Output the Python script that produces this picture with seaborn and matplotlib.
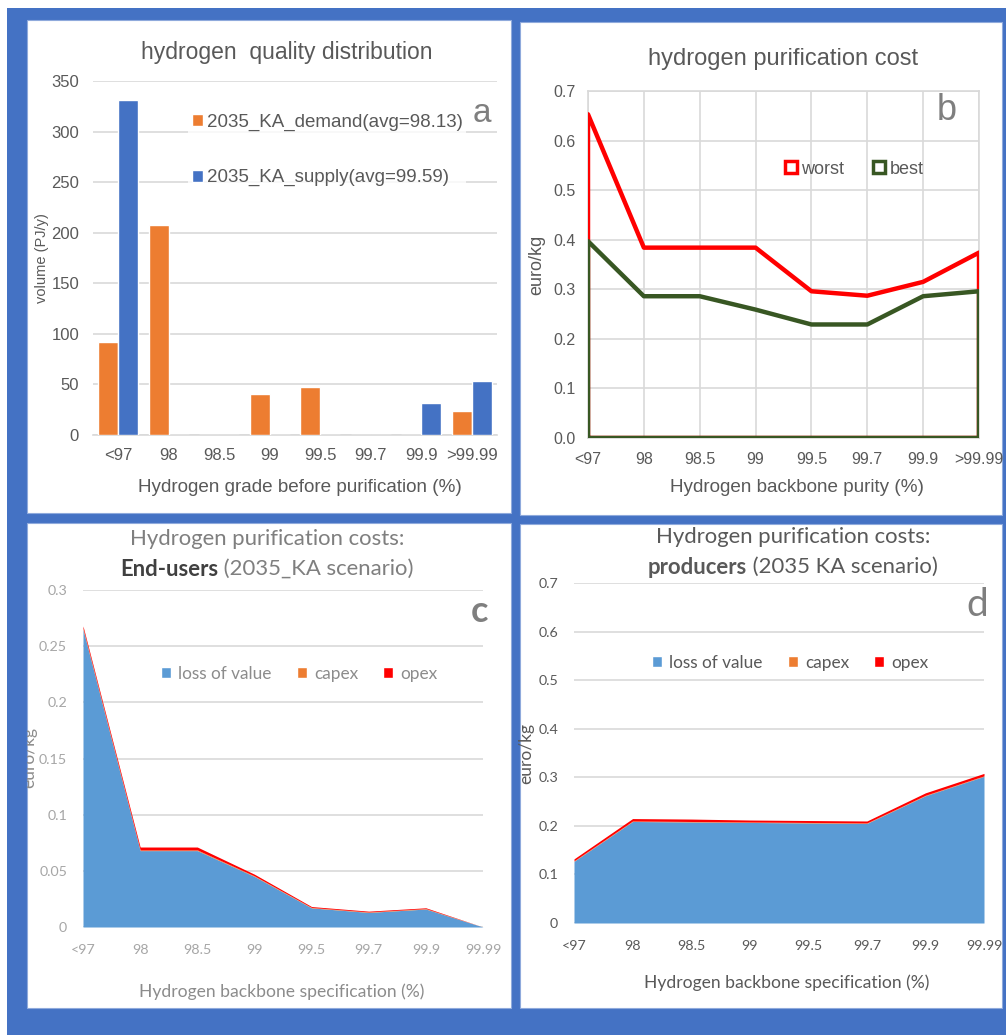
#!/usr/bin/env python3
# Four-panel hydrogen purification figure (a-d)

import numpy as np
import pandas as pd
import matplotlib
matplotlib.use("Agg")
import matplotlib.pyplot as plt
from matplotlib.patches import Rectangle, Patch
from matplotlib.transforms import Bbox, IdentityTransform
import seaborn as sns

# ============================================================================
# DATA
# ============================================================================
grades_a = ["<97", "98", "98.5", "99", "99.5", "99.7", "99.9", ">99.99"]
demand_a = [92, 208, 0, 41, 47, 0, 0, 24]
supply_a = [331, 0, 0, 0, 0, 0, 32, 53]
legend_a = ["2035_KA_demand(avg=98.13)", "2035_KA_supply(avg=99.59)"]

purity_b = ["<97", "98", "98.5", "99", "99.5", "99.7", "99.9", ">99.99"]
worst_b = [0.653, 0.384, 0.384, 0.384, 0.296, 0.287, 0.315, 0.374]
best_b = [0.397, 0.286, 0.286, 0.259, 0.229, 0.229, 0.286, 0.296]

spec_cd = ["<97", "98", "98.5", "99", "99.5", "99.7", "99.9", "99.99"]
loss_c = [0.265, 0.068, 0.068, 0.045, 0.017, 0.013, 0.016, 0.0]
capex_c = [0.001, 0.0006, 0.0006, 0.0005, 0.0004, 0.0004, 0.0004, 0.0]
opex_c = [0.002, 0.0026, 0.0026, 0.0015, 0.0008, 0.0007, 0.0007, 0.0]

loss_d = [0.127, 0.209, 0.208, 0.207, 0.206, 0.205, 0.262, 0.302]
capex_d = [0.001, 0.001, 0.001, 0.001, 0.001, 0.001, 0.001, 0.001]
opex_d = [0.004, 0.005, 0.005, 0.004, 0.004, 0.004, 0.005, 0.005]

# ============================================================================
# THEME SETTINGS
# ============================================================================
sns.set_theme(style="white")
plt.rcParams['font.family'] = ['Liberation Sans', 'DejaVu Sans']

W, H = 1006, 1035
BLUE_BG = '#4472C4'
GRID = '#d9d9d9'
TXT = '#595959'
ORANGE = '#ED7D31'
BLUE = '#4472C4'
AREA_BLUE = '#5B9BD5'
RED = '#FF0000'
GREEN = '#385723'
LATO = ['Lato', 'DejaVu Sans']
PIX = IdentityTransform()


def box(l, t, r, b):
    """pixel box (left, top, right, bottom) -> figure fraction rect"""
    return [l / W, 1 - b / H, (r - l) / W, (b - t) / H]


def fx(x):
    return x / W


def fy(y):
    return 1 - y / H


fig = plt.figure(figsize=(W / 100, H / 100), dpi=100, facecolor='white')
fig.patches.append(Rectangle((7 / W, 0), 1, 1 - 8 / H, transform=fig.transFigure,
                             facecolor=BLUE_BG, edgecolor='none', zorder=-10))
panels = {'a': (27, 20, 511, 513), 'b': (520, 22, 1002, 515),
          'c': (27, 523, 511, 1008), 'd': (520, 524, 1002, 1008)}
for l, t, r, b in panels.values():
    fig.patches.append(Rectangle((l / W, 1 - b / H), (r - l) / W, (b - t) / H,
                                 transform=fig.transFigure, facecolor='white',
                                 edgecolor='#8faadc', linewidth=0.8, zorder=-5))

# ============================================================================
# PANEL A - bar chart
# ============================================================================
ax_a = fig.add_axes(box(93, 81, 497, 435))
df_a = pd.DataFrame({
    'grade': grades_a * 2,
    'volume': demand_a + supply_a,
    'series': ['demand'] * len(grades_a) + ['supply'] * len(grades_a),
})
sns.barplot(data=df_a, x='grade', y='volume', hue='series', order=grades_a,
            palette={'demand': ORANGE, 'supply': BLUE}, width=0.8,
            saturation=1, legend=False, ax=ax_a, zorder=3)
ax_a.set_ylim(0, 350)
ax_a.set_xlim(-0.5, len(grades_a) - 0.5)
ax_a.set_yticks(np.arange(0, 351, 50))
ax_a.yaxis.grid(True, color=GRID, linewidth=1.2)
ax_a.set_axisbelow(True)
for s in ['top', 'right', 'left']:
    ax_a.spines[s].set_visible(False)
ax_a.spines['bottom'].set_color(GRID)
ax_a.spines['bottom'].set_linewidth(1.2)
ax_a.set_xticks(np.arange(len(grades_a) + 1) - 0.5, minor=True)
ax_a.tick_params(axis='x', which='minor', length=6, color=GRID, width=1.2)
ax_a.tick_params(axis='x', which='major', length=0, pad=9, labelsize=12, labelcolor=TXT)
ax_a.tick_params(axis='y', length=0, pad=10, labelsize=12, labelcolor=TXT)
ax_a.set_xlabel("")
ax_a.set_ylabel("")
fig.text(fx(42), fy(258), "volume (PJ/y)", rotation=90, ha='center', va='center',
         fontsize=10.5, color=TXT)
fig.text(fx(300), fy(487), "Hydrogen grade before purification (%)", ha='center',
         va='center', fontsize=13.6, color=TXT)
fig.text(fx(287), fy(52), "hydrogen  quality distribution", ha='center', va='center',
         fontsize=16.5, color=TXT)
fig.text(fx(482), fy(113), "a", ha='center', va='center', fontsize=24, color='#7f7f7f')
handles_a = [Patch(facecolor=ORANGE), Patch(facecolor=BLUE)]
leg = ax_a.legend(handles_a, legend_a, loc='center left', frameon=True,
                  fontsize=13.5, handlelength=0.6, handleheight=0.6,
                  handletextpad=0.2, labelspacing=2.05, borderpad=0.2,
                  borderaxespad=0, labelcolor=TXT)
leg.set_bbox_to_anchor((188, H - 150), transform=PIX)
leg.get_frame().set_facecolor('white')
leg.get_frame().set_edgecolor('none')

# ============================================================================
# PANEL B - line chart
# ============================================================================
ax_b = fig.add_axes(box(588, 91, 979, 438))
pos_b = np.arange(len(purity_b))
for vals, col in [(worst_b, RED), (best_b, GREEN)]:
    # closed outline: drop to zero at both ends and run back along the base
    loop_x = np.concatenate([[pos_b[0]], pos_b, [pos_b[-1], pos_b[0]]])
    loop_y = np.concatenate([[0], vals, [0, 0]])
    df_loop = pd.DataFrame({'x': loop_x, 'y': loop_y})
    sns.lineplot(data=df_loop, x='x', y='y', sort=False, estimator=None,
                 color=col, linewidth=3.2, ax=ax_b, zorder=3)
ax_b.set_xlim(0, len(purity_b) - 1)
ax_b.set_ylim(0, 0.7)
ax_b.set_xticks(pos_b)
ax_b.set_xticklabels(purity_b)
ax_b.set_yticks(np.arange(0, 0.71, 0.1))
ax_b.set_yticklabels([f"{v:.1f}" for v in np.arange(0, 0.71, 0.1)])
ax_b.grid(True, color=GRID, linewidth=1.2)
ax_b.set_axisbelow(True)
for s in ax_b.spines.values():
    s.set_color(GRID)
    s.set_linewidth(1.2)
ax_b.tick_params(axis='both', length=0, labelsize=11.5, labelcolor=TXT)
ax_b.tick_params(axis='x', pad=10)
ax_b.tick_params(axis='y', pad=9)
ax_b.set_xlabel("")
ax_b.set_ylabel("")
fig.text(fx(537), fy(265), "euro/kg", rotation=90, ha='center', va='center',
         fontsize=13, color=TXT)
fig.text(fx(797), fy(487), "Hydrogen backbone purity (%)", ha='center', va='center',
         fontsize=13.6, color=TXT)
fig.text(fx(783), fy(59), "hydrogen purification cost", ha='center', va='center',
         fontsize=17, color=TXT)
fig.text(fx(947), fy(110), "b", ha='center', va='center', fontsize=26, color='#7f7f7f')
handles_b = [Patch(facecolor='white', edgecolor=RED, linewidth=2.5),
             Patch(facecolor='white', edgecolor=GREEN, linewidth=2.5)]
leg_b = ax_b.legend(handles_b, ["worst", "best"], loc='center left', ncol=2,
                    frameon=False, fontsize=13, handlelength=0.65,
                    handleheight=0.65, handletextpad=0.25, columnspacing=1.6,
                    borderaxespad=0, borderpad=0, labelcolor=TXT)
leg_b.set_bbox_to_anchor((785, H - 169), transform=PIX)


# ============================================================================
# PANELS C & D - stacked areas
# ============================================================================
def stacked_panel(rect, loss, capex, opex, ymax, ystep, ylabels, tick_col):
    ax = fig.add_axes(rect)
    pos = np.arange(len(spec_cd))
    ax.stackplot(pos, loss, capex, opex, colors=[AREA_BLUE, ORANGE, RED],
                 linewidth=0, zorder=3)
    ax.set_xlim(0, len(spec_cd) - 1)
    ax.set_ylim(0, ymax)
    ax.set_xticks(pos)
    ax.set_xticklabels(spec_cd)
    ax.set_yticks(np.arange(0, ymax + 1e-9, ystep))
    ax.set_yticklabels(ylabels)
    ax.yaxis.grid(True, color=GRID, linewidth=1.2)
    ax.set_axisbelow(True)
    for s in ax.spines.values():
        s.set_visible(False)
    ax.tick_params(axis='both', length=0, labelsize=10.3, labelcolor=tick_col)
    ax.tick_params(axis='x', pad=12)
    ax.tick_params(axis='y', pad=11.5)
    for lab in ax.get_xticklabels() + ax.get_yticklabels():
        lab.set_family(LATO)
    return ax


ax_c = stacked_panel(box(83, 590, 483, 927), loss_c, capex_c, opex_c, 0.3, 0.05,
                     ["0", "0.05", "0.1", "0.15", "0.2", "0.25", "0.3"], '#a6a6a6')
ax_d = stacked_panel(box(574, 583, 984, 923), loss_d, capex_d, opex_d, 0.7, 0.1,
                     ["0", "0.1", "0.2", "0.3", "0.4", "0.5", "0.6", "0.7"], TXT)

leg_labels = ["loss of value", "capex", "opex"]
handles_cd = [Patch(facecolor=AREA_BLUE), Patch(facecolor=ORANGE), Patch(facecolor=RED)]
for ax, x0, y0, col in [(ax_c, 161, 674, '#8c8c8c'), (ax_d, 652, 663, TXT)]:
    lg = ax.legend(handles_cd, leg_labels, loc='center left', ncol=3, frameon=False,
                   handlelength=0.6, handleheight=0.6, borderaxespad=0,
                   borderpad=0, handletextpad=0.4, columnspacing=1.45,
                   labelcolor=col, prop={'family': LATO, 'size': 12.4})
    lg.set_bbox_to_anchor((x0, H - y0), transform=PIX)

# axis labels, panel c label clipped by the panel edge
lab_c = fig.text(fx(29), fy(758), "euro/kg", rotation=90, ha='center', va='center',
                 fontsize=12.5, color='#8c8c8c', family=LATO)
lab_c.set_clip_box(Bbox.from_extents(27, 0, 511, H))
lab_c.set_clip_on(True)
fig.text(fx(526), fy(753), "euro/kg", rotation=90, ha='center', va='center',
         fontsize=12.5, color=TXT, family=LATO)
fig.text(fx(282), fy(992), "Hydrogen backbone specification (%)", ha='center',
         va='center', fontsize=12.6, color='#8c8c8c', family=LATO)
fig.text(fx(787), fy(983), "Hydrogen backbone specification (%)", ha='center',
         va='center', fontsize=12.6, color=TXT, family=LATO)
fig.text(fx(479), fy(611), "c", ha='center', va='center', fontsize=26,
         color='#7f7f7f', family=LATO, weight='bold')
fig.text(fx(977), fy(605), "d", ha='center', va='center', fontsize=28,
         color='#7f7f7f', family=LATO)

# two-line titles with a bold lead word
renderer = fig.canvas.get_renderer()


def mixed_title(cx, y1, y2, line1, bold, rest, c1, cb, cr):
    fig.text(fx(cx), fy(y1), line1, ha='center', va='center', fontsize=15.9,
             color=c1, family=LATO)
    tb = fig.text(0, fy(y2), bold, ha='left', va='center', fontsize=15.9,
                  color=cb, family=LATO, weight='bold')
    tr = fig.text(0, fy(y2), " " + rest, ha='left', va='center', fontsize=15.9,
                  color=cr, family=LATO)
    wb = tb.get_window_extent(renderer).width
    wr = tr.get_window_extent(renderer).width
    left = cx - (wb + wr) / 2
    tb.set_x(fx(left))
    tr.set_x(fx(left + wb))


mixed_title(267, 539, 569, "Hydrogen purification costs:", "End-users",
            "(2035_KA scenario)", '#7f7f7f', '#404040', '#7f7f7f')
mixed_title(793, 537, 567, "Hydrogen purification costs:", "producers",
            "(2035 KA scenario)", TXT, TXT, TXT)

# ============================================================================
# SAVE OUTPUT
# ============================================================================
plt.savefig("out.png", dpi=100)
print("Plot saved to: out.png")
plt.close()
